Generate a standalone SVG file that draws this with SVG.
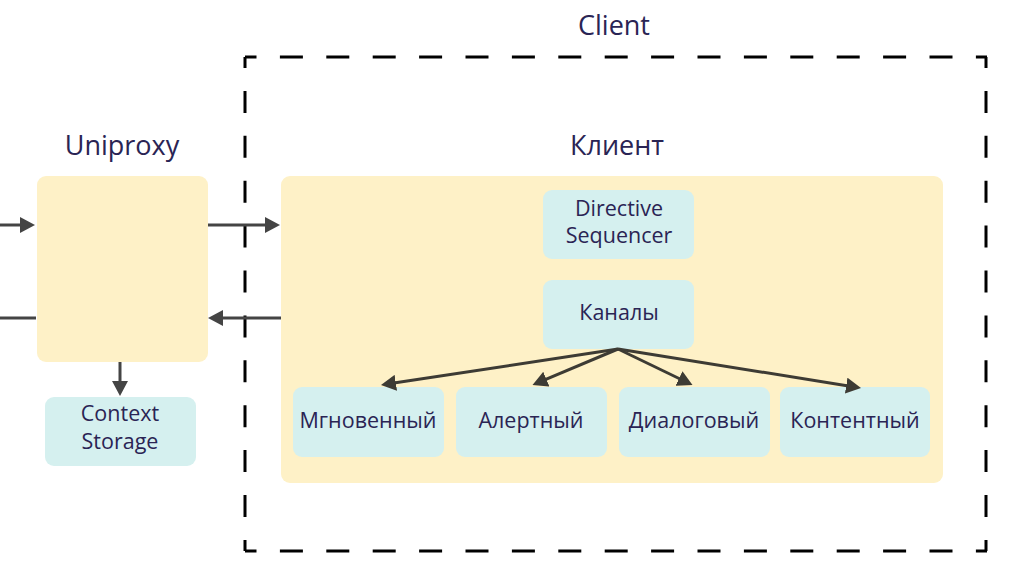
<svg xmlns="http://www.w3.org/2000/svg" width="1011" height="578" viewBox="0 0 1011 578">
<defs>
<style>
.t{font-family:"Open Sans","Noto Sans","Liberation Sans",sans-serif;fill:#2a2454;text-anchor:middle}
.title{font-size:27px}
.lbl{font-size:21.5px}
.yel{fill:#fef1c7}
.cy{fill:#d5f0ef}
.dash{fill:none;stroke:#000;stroke-width:3}
.c{fill:none;stroke:#444;stroke-width:3}
.c2{fill:none;stroke:#3d3b34;stroke-width:3}
</style>
<marker id="ah" viewBox="0 0 15 16" refX="7" refY="8" markerWidth="15" markerHeight="16" markerUnits="userSpaceOnUse" orient="auto">
<path d="M0,0 L15,8 L0,16 Z" fill="#444"/>
</marker>
<marker id="ah2" viewBox="0 0 15 16" refX="7" refY="8" markerWidth="15" markerHeight="16" markerUnits="userSpaceOnUse" orient="auto">
<path d="M0,0 L15,8 L0,16 Z" fill="#3d3b34"/>
</marker>
</defs>
<rect width="1011" height="578" fill="#fff"/>

<g id="client-boundary">
<path class="dash" d="M245,57 H987" stroke-dasharray="23 23.4" stroke-dashoffset="11.5"/>
<path class="dash" d="M245,551 H987" stroke-dasharray="23 23.4" stroke-dashoffset="11.5"/>
<path class="dash" d="M245,57 V551" stroke-dasharray="22 22.9" stroke-dashoffset="11"/>
<path class="dash" d="M986,57 V551" stroke-dasharray="22 22.9" stroke-dashoffset="11"/>
<text class="t title" x="614" y="35">Client</text>
</g>

<g id="uniproxy">
<rect class="yel" x="37" y="176" width="171" height="186" rx="9"/>
<text class="t title" x="122" y="155">Uniproxy</text>
</g>

<g id="context-storage">
<rect class="cy" x="45" y="397" width="151" height="69" rx="9"/>
<text class="t lbl" x="120" y="421">Context</text>
<text class="t lbl" x="120" y="448.5">Storage</text>
</g>

<g id="klient">
<rect class="yel" x="281" y="176" width="662" height="307" rx="9"/>
<text class="t title" x="617" y="155">Клиент</text>
</g>

<g id="directive-sequencer">
<rect class="cy" x="543" y="190" width="151" height="69" rx="9"/>
<text class="t lbl" x="619" y="216">Directive</text>
<text class="t lbl" x="619" y="243">Sequencer</text>
</g>

<g id="kanaly">
<rect class="cy" x="543" y="280" width="151" height="69" rx="9"/>
<text class="t lbl" x="619" y="320">Каналы</text>
</g>

<g id="mgnovenny">
<rect class="cy" x="293" y="387" width="151" height="70" rx="9"/>
<text class="t lbl" x="368" y="428">Мгновенный</text>
</g>
<g id="alertny">
<rect class="cy" x="456" y="387" width="151" height="70" rx="9"/>
<text class="t lbl" x="531" y="428">Алертный</text>
</g>
<g id="dialogovy">
<rect class="cy" x="619" y="387" width="151" height="70" rx="9"/>
<text class="t lbl" x="694" y="428">Диалоговый</text>
</g>
<g id="kontentny">
<rect class="cy" x="780" y="387" width="150" height="70" rx="9"/>
<text class="t lbl" x="855" y="428">Контентный</text>
</g>

<g id="connectors">
<path class="c" d="M0,225 H27" marker-end="url(#ah)"/>
<path class="c" d="M0,318 H36"/>
<path class="c" d="M208,225 H272" marker-end="url(#ah)"/>
<path class="c" d="M281,318 H216" marker-end="url(#ah)"/>
<path class="c" d="M120,362 V388" marker-end="url(#ah)"/>
<path class="c2" d="M618,349 L388.9,383.8" marker-end="url(#ah2)"/>
<path class="c2" d="M618,349 L539.9,381.9" marker-end="url(#ah2)"/>
<path class="c2" d="M618,349 L685.3,381.5" marker-end="url(#ah2)"/>
<path class="c2" d="M618,349 L853.1,386.7" marker-end="url(#ah2)"/>
</g>
</svg>
